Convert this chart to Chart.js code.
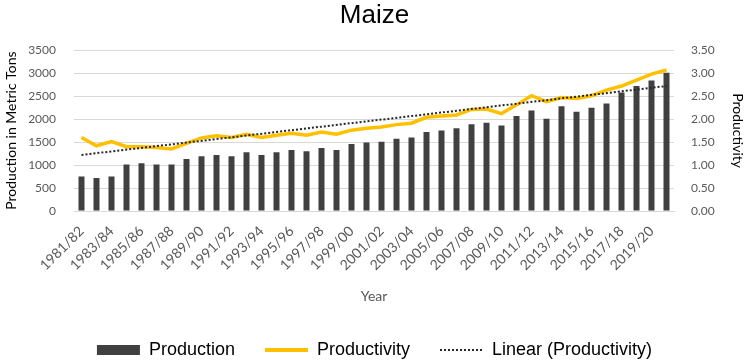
<!DOCTYPE html>
<html>
<head>
<meta charset="utf-8">
<script src="https://cdn.jsdelivr.net/npm/chart.js@4"></script>
<style>
  html, body { margin: 0; padding: 0; background: #fff; }
  #box { width: 749px; height: 361px; }
</style>
</head>
<body>
<div id="box"><canvas id="maizeChart"></canvas></div>
<script>
/* ==============================
   DATA
============================== */
const years = [
  "1981/82", "1982/83", "1983/84", "1984/85", "1985/86", "1986/87", "1987/88", "1988/89",
  "1989/90", "1990/91", "1991/92", "1992/93", "1993/94", "1994/95", "1995/96", "1996/97",
  "1997/98", "1998/99", "1999/00", "2000/01", "2001/02", "2002/03", "2003/04", "2004/05",
  "2005/06", "2006/07", "2007/08", "2008/09", "2009/10", "2010/11", "2011/12", "2012/13",
  "2013/14", "2014/15", "2015/16", "2016/17", "2017/18", "2018/19", "2019/20", "2020/21"
];

const production = [
  750, 720, 750, 1010, 1040, 1010, 1010, 1130, 1190, 1220,
  1190, 1280, 1220, 1280, 1330, 1300, 1370, 1330, 1460, 1490,
  1510, 1570, 1600, 1720, 1750, 1800, 1890, 1920, 1860, 2070,
  2190, 2010, 2280, 2160, 2250, 2340, 2580, 2720, 2840, 3010
];

const productivity = [
  1.60, 1.42, 1.51, 1.40, 1.40, 1.38, 1.35, 1.47, 1.59, 1.64,
  1.60, 1.67, 1.60, 1.65, 1.69, 1.65, 1.72, 1.67, 1.76, 1.80,
  1.83, 1.88, 1.91, 2.04, 2.07, 2.09, 2.21, 2.22, 2.12, 2.31,
  2.51, 2.38, 2.47, 2.45, 2.51, 2.63, 2.72, 2.85, 2.98, 3.07
];

// trend line: value at first and last year
const trendStart = 1.22;
const trendEnd = 2.72;

const prodTicks = [0, 500, 1000, 1500, 2000, 2500, 3000, 3500];
const yieldTicks = [0, 0.5, 1, 1.5, 2, 2.5, 3, 3.5];

/* ==============================
   CHART
============================== */
const trend = years.map((y, i) => (i === 0 ? trendStart : i === years.length - 1 ? trendEnd : null));
const gray = "#595959";
const sans = "Lato, 'Open Sans', sans-serif";
const tickFont = { family: sans, size: 12 };
const narrow = "'Liberation Sans Narrow', 'Liberation Sans', Arial, sans-serif";

const legendLook = [
  { pointStyle: "rect", fillStyle: "#404040", strokeStyle: "#404040", lineWidth: 0, lineDash: [] },
  { pointStyle: "line", fillStyle: "#FFC000", strokeStyle: "#FFC000", lineWidth: 4, lineDash: [] },
  { pointStyle: "line", fillStyle: "#262626", strokeStyle: "#262626", lineWidth: 2, lineDash: [2, 2] }
];

new Chart(document.getElementById("maizeChart"), {
  data: {
    labels: years,
    datasets: [
      {
        type: "bar",
        label: "Production",
        data: production,
        backgroundColor: "#404040",
        barPercentage: 0.4,
        categoryPercentage: 1,
        yAxisID: "y",
        order: 3
      },
      {
        type: "line",
        label: "Productivity",
        data: productivity,
        borderColor: "#FFC000",
        backgroundColor: "#FFC000",
        borderWidth: 3.5,
        pointRadius: 0,
        tension: 0,
        yAxisID: "y1",
        order: 2
      },
      {
        type: "line",
        label: "Linear (Productivity)",
        data: trend,
        borderColor: "#262626",
        borderWidth: 2,
        borderDash: [2, 2],
        pointRadius: 0,
        spanGaps: true,
        yAxisID: "y1",
        order: 1
      }
    ]
  },
  options: {
    responsive: true,
    maintainAspectRatio: false,
    animation: false,
    layout: { padding: { left: 0, right: 0, top: 0, bottom: -8 } },
    plugins: {
      tooltip: { enabled: false },
      title: {
        display: true,
        text: "Maize",
        color: "#000",
        font: { family: narrow, size: 26, weight: "normal" },
        padding: { top: 0, bottom: 19 }
      },
      legend: {
        position: "bottom",
        labels: {
          color: "#000",
          font: { family: narrow, size: 18 },
          usePointStyle: true,
          pointStyleWidth: 43,
          boxHeight: 10,
          padding: 30,
          sort: (a, b) => a.datasetIndex - b.datasetIndex,
          generateLabels(chart) {
            const items = Chart.defaults.plugins.legend.labels.generateLabels(chart);
            items.forEach((it) => Object.assign(it, legendLook[it.datasetIndex]));
            return items;
          }
        }
      }
    },
    scales: {
      x: {
        grid: { display: false },
        border: { color: "#D9D9D9" },
        ticks: {
          color: gray,
          font: { family: sans, size: 14 },
          autoSkip: false,
          minRotation: 45,
          maxRotation: 45,
          padding: 4,
          callback: (v, i) => (i % 2 === 0 ? years[i] : "")
        },
        title: { display: true, text: "Year", color: gray, font: { family: sans, size: 14 }, padding: { top: 4, bottom: 6 } },
        afterFit: (s) => { s.height = 100; }
      },
      y: {
        position: "left",
        min: 0,
        max: 3500,
        afterBuildTicks: (s) => { s.ticks = prodTicks.map((v) => ({ value: v })); },
        grid: { color: "#D9D9D9", drawTicks: false },
        border: { display: false },
        ticks: { color: gray, font: tickFont, padding: 18, callback: (v) => String(v) },
        title: { display: true, text: "Production in Metric Tons", color: "#000", font: { family: sans, size: 14 }, padding: { top: 3 } },
        afterFit: (s) => { s.width = 74; }
      },
      y1: {
        position: "right",
        min: 0,
        max: 3.5,
        afterBuildTicks: (s) => { s.ticks = yieldTicks.map((v) => ({ value: v })); },
        grid: { display: false, drawTicks: false },
        border: { display: false },
        ticks: { color: gray, font: tickFont, padding: 17, callback: (v) => Number(v).toFixed(2) },
        title: { display: true, text: "Productivity", color: "#000", font: { family: sans, size: 14 }, padding: { top: 3 } },
        afterFit: (s) => { s.width = 75; }
      }
    }
  }
});
</script>
</body>
</html>
